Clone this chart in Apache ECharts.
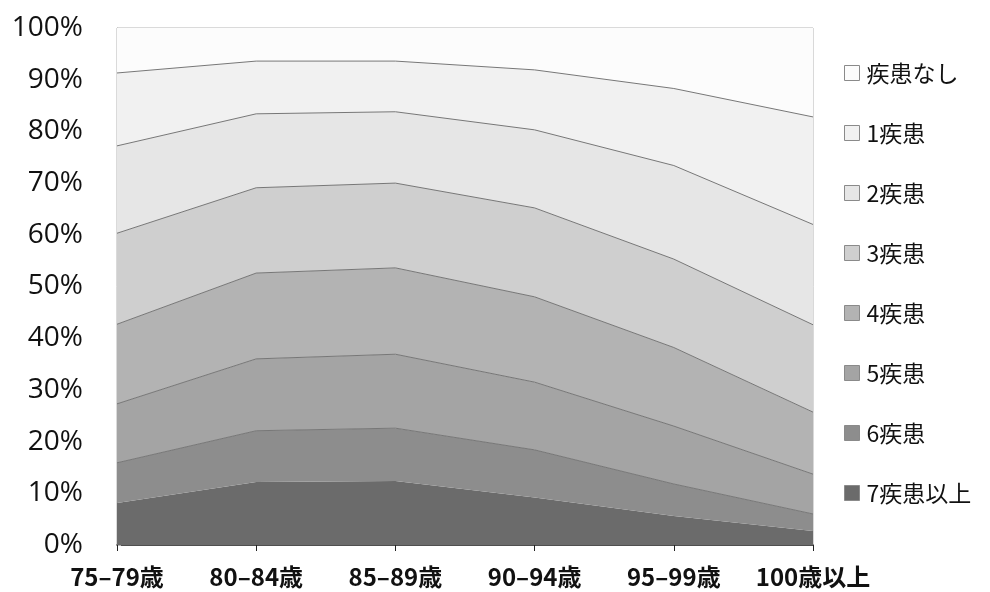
<!DOCTYPE html>
<html>
<head>
<meta charset="utf-8">
<script src="https://cdn.jsdelivr.net/npm/echarts@6/dist/echarts.min.js"></script>
<style>
  html, body { margin: 0; padding: 0; background: #ffffff; }
  #chart { width: 990px; height: 592px; }
</style>
</head>
<body>
<div id="chart"></div>
<script>
// Age groups along the x axis
const categories = ['75–79歳', '80–84歳', '85–89歳', '90–94歳', '95–99歳', '100歳以上'];

// Share of people (%) by number of diseases, per age group
const d7plus = [8.1, 12.2, 12.4, 9.2, 5.6, 2.7];
const d6     = [7.8, 9.9, 10.2, 9.2, 6.2, 3.3];
const d5     = [11.4, 13.9, 14.3, 13.1, 11.2, 7.7];
const d4     = [15.4, 16.6, 16.7, 16.5, 15.2, 12.0];
const d3     = [17.6, 16.5, 16.4, 17.2, 17.1, 16.9];
const d2     = [16.9, 14.3, 13.8, 15.1, 18.1, 19.4];
const d1     = [14.1, 10.2, 9.8, 11.6, 14.9, 20.8];
const d0     = [8.7, 6.4, 6.4, 8.1, 11.7, 17.2];

const yTicks = [0, 10, 20, 30, 40, 50, 60, 70, 80, 90, 100];

// Stack order is bottom-up; legend lists top-down
const seriesDefs = [
  { name: '7疾患以上', data: d7plus, color: '#6b6b6b', line: 0 },
  { name: '6疾患',     data: d6,     color: '#8d8d8d', line: 1 },
  { name: '5疾患',     data: d5,     color: '#a4a4a4', line: 1 },
  { name: '4疾患',     data: d4,     color: '#b3b3b3', line: 1 },
  { name: '3疾患',     data: d3,     color: '#cfcfcf', line: 1 },
  { name: '2疾患',     data: d2,     color: '#e6e6e6', line: 1 },
  { name: '1疾患',     data: d1,     color: '#f1f1f1', line: 1 },
  { name: '疾患なし',   data: d0,     color: '#fcfcfc', line: 0 }
];

const chart = echarts.init(document.getElementById('chart'), null, { renderer: 'canvas' });

const option = {
  backgroundColor: '#ffffff',
  animation: false,
  grid: {
    left: 117, right: 177, top: 28, bottom: 47,
    show: true, borderColor: '#b4b4b4', borderWidth: 1, backgroundColor: 'transparent'
  },
  legend: {
    orient: 'vertical',
    left: 839, top: 56,
    padding: [5, 5, 5, 5],
    itemWidth: 15, itemHeight: 15, itemGap: 36,
    icon: 'rect',
    data: seriesDefs.map(s => s.name).reverse(),
    textStyle: { fontFamily: 'Noto Sans CJK JP', fontSize: 23, color: '#111', lineHeight: 24, padding: [0, 0, 0, 2] },
    itemStyle: { borderColor: '#8a8a8a', borderWidth: 1 }
  },
  xAxis: {
    type: 'category',
    data: categories,
    boundaryGap: false,
    axisLine: { show: true, lineStyle: { color: '#222', width: 1.5 } },
    axisTick: { show: true, alignWithLabel: true, length: 6, lineStyle: { color: '#222' } },
    axisLabel: {
      interval: 0, margin: 20,
      fontFamily: 'Noto Sans CJK JP', fontWeight: 'bold', fontSize: 24, color: '#111'
    },
    splitLine: { show: false }
  },
  yAxis: {
    type: 'value',
    min: yTicks[0], max: yTicks[yTicks.length - 1], interval: 10,
    axisLine: { show: true, lineStyle: { color: '#b4b4b4' } },
    axisTick: { show: true, inside: true, length: 4, lineStyle: { color: '#b4b4b4' } },
    axisLabel: {
      margin: 34,
      fontFamily: 'Open Sans', fontSize: 28, color: '#111',
      formatter: v => v + '%'
    },
    splitLine: { show: false }
  },
  series: seriesDefs.map(s => ({
    name: s.name,
    type: 'line',
    stack: 'total',
    data: s.data,
    symbol: 'none',
    smooth: false,
    color: s.color,
    lineStyle: { color: '#777777', width: s.line },
    areaStyle: { color: s.color, opacity: 1 },
    itemStyle: { color: s.color }
  }))
};

chart.setOption(option);
</script>
</body>
</html>
